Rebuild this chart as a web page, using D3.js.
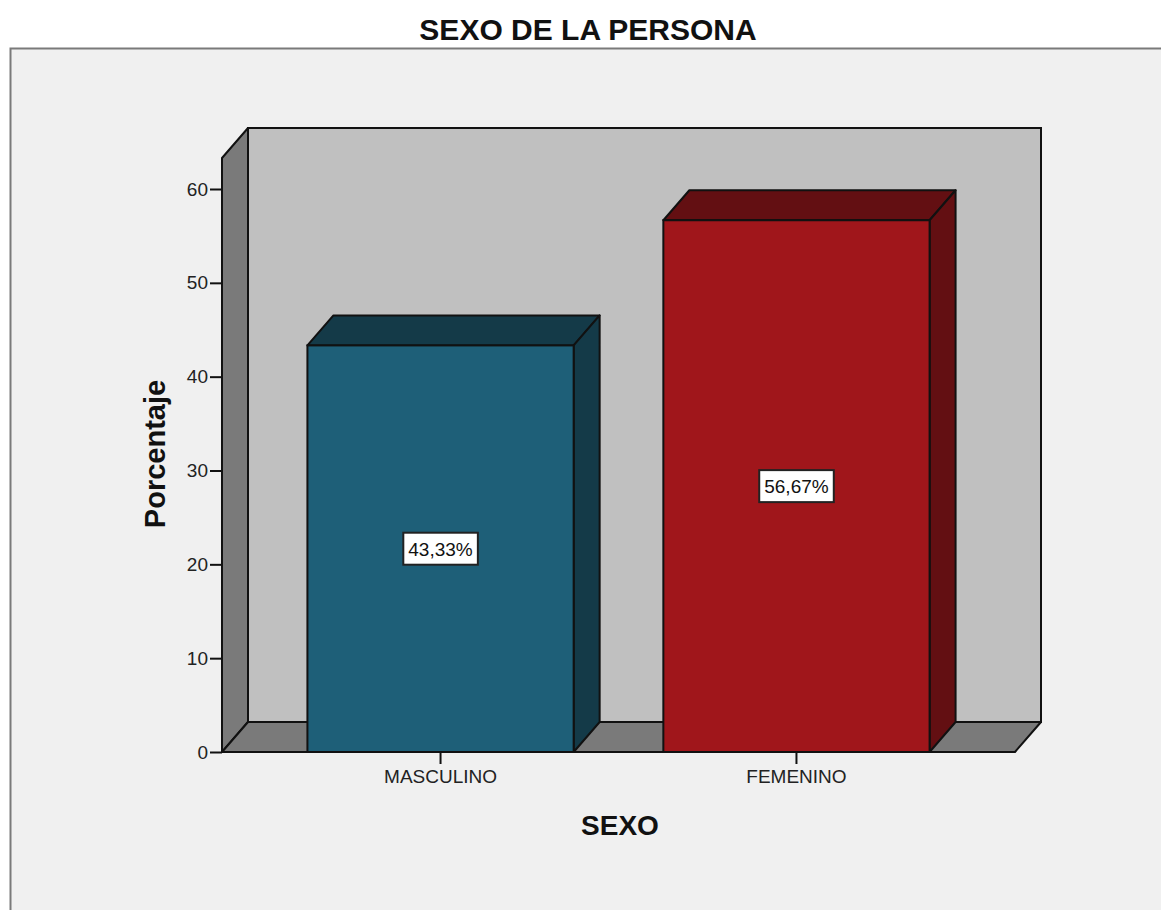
<!DOCTYPE html>
<html>
<head>
<meta charset="utf-8">
<script src="https://cdn.jsdelivr.net/npm/d3@7"></script>
<style>
  body { margin: 0; background: #fff; }
  text { font-family: "Liberation Sans", Arial, sans-serif; }
</style>
</head>
<body>
<div id="chart"></div>
<script>
// chart data
const categories = ["MASCULINO", "FEMENINO"];
const percentages = [43.33, 56.67];
const pctLabels = ["43,33%", "56,67%"];
const yTicks = [0, 10, 20, 30, 40, 50, 60];
const frontColors = ["#1e5f78", "#a0161b"];
const darkColors = ["#143a48", "#630f12"];

const svgWidth = 1161, svgHeight = 910;
const plot = { left: 222, right: 1015, top: 158, bottom: 752 };
const depthX = 26, depthY = -30;

const svg = d3.select("#chart").append("svg")
    .attr("width", svgWidth)
    .attr("height", svgHeight);

// outer frame
svg.append("rect")
    .attr("x", 10.5).attr("y", 48.5)
    .attr("width", 1200).attr("height", 900)
    .attr("fill", "#f0f0f0")
    .attr("stroke", "#7a7a7a")
    .attr("stroke-width", 2);

svg.append("text")
    .attr("x", 588).attr("y", 40)
    .attr("text-anchor", "middle")
    .attr("font-size", 30).attr("font-weight", "bold")
    .attr("fill", "#111")
    .text("SEXO DE LA PERSONA");

const y = d3.scaleLinear().domain([0, 60]).range([plot.bottom, 189]);
const x = d3.scaleBand().domain(categories)
    .range([plot.left, plot.right])
    .paddingInner(0.252).paddingOuter(0.24);

const poly = pts => pts.map(p => p.join(",")).join(" ");
const wallTop = plot.top;

// back wall
svg.append("polygon")
    .attr("points", poly([
        [plot.left + depthX, wallTop + depthY],
        [plot.right + depthX, wallTop + depthY],
        [plot.right + depthX, plot.bottom + depthY],
        [plot.left + depthX, plot.bottom + depthY]
    ]))
    .attr("fill", "#c0c0c0").attr("stroke", "#111").attr("stroke-width", 2);

// left side wall
svg.append("polygon")
    .attr("points", poly([
        [plot.left, wallTop],
        [plot.left + depthX, wallTop + depthY],
        [plot.left + depthX, plot.bottom + depthY],
        [plot.left, plot.bottom]
    ]))
    .attr("fill", "#7a7a7a").attr("stroke", "#111").attr("stroke-width", 2)
    .attr("stroke-linejoin", "round");

// floor
svg.append("polygon")
    .attr("points", poly([
        [plot.left, plot.bottom],
        [plot.left + depthX, plot.bottom + depthY],
        [plot.right + depthX, plot.bottom + depthY],
        [plot.right, plot.bottom]
    ]))
    .attr("fill", "#7a7a7a").attr("stroke", "#111").attr("stroke-width", 2)
    .attr("stroke-linejoin", "round");

// bars
const bars = svg.append("g").selectAll("g")
    .data(categories.map((c, i) => ({ c, v: percentages[i], i })))
    .join("g");

bars.each(function(d) {
    const g = d3.select(this);
    const x0 = x(d.c), x1 = x(d.c) + x.bandwidth();
    const yt = y(d.v), yb = y(0);
    // top face
    g.append("polygon")
        .attr("points", poly([[x0, yt], [x0 + depthX, yt + depthY], [x1 + depthX, yt + depthY], [x1, yt]]))
        .attr("fill", darkColors[d.i]).attr("stroke", "#111").attr("stroke-width", 2)
        .attr("stroke-linejoin", "round");
    // side face
    g.append("polygon")
        .attr("points", poly([[x1, yt], [x1 + depthX, yt + depthY], [x1 + depthX, yb + depthY], [x1, yb]]))
        .attr("fill", darkColors[d.i]).attr("stroke", "#111").attr("stroke-width", 2)
        .attr("stroke-linejoin", "round");
    // front face
    g.append("rect")
        .attr("x", x0).attr("y", yt)
        .attr("width", x1 - x0).attr("height", yb - yt)
        .attr("fill", frontColors[d.i]).attr("stroke", "#111").attr("stroke-width", 2);
});

// value labels
bars.each(function(d) {
    const g = d3.select(this);
    const cx = x(d.c) + x.bandwidth() / 2;
    const cy = y(d.v / 2);
    const t = g.append("text")
        .attr("x", cx).attr("y", cy + 7)
        .attr("text-anchor", "middle")
        .attr("font-size", 19)
        .attr("fill", "#111")
        .text(pctLabels[d.i]);
    const bb = t.node().getBBox();
    g.insert("rect", "text")
        .attr("x", bb.x - 5).attr("y", cy - 16)
        .attr("width", bb.width + 10).attr("height", 32)
        .attr("fill", "#fff").attr("stroke", "#222").attr("stroke-width", 2);
});

// y axis
const yAxis = svg.append("g")
    .attr("transform", `translate(${plot.left},0)`)
    .call(d3.axisLeft(y).tickValues(yTicks).tickSize(12).tickPadding(2));
yAxis.select(".domain").remove();
yAxis.selectAll(".tick line").attr("stroke", "#111").attr("stroke-width", 2);
yAxis.selectAll(".tick text")
    .attr("font-size", 19).attr("fill", "#222")
    .attr("font-family", "Liberation Sans, Arial, sans-serif");

// x axis
const xAxis = svg.append("g")
    .attr("transform", `translate(0,${plot.bottom})`)
    .call(d3.axisBottom(x).tickSize(12).tickPadding(6));
xAxis.select(".domain").remove();
xAxis.selectAll(".tick line").attr("stroke", "#111").attr("stroke-width", 2);
xAxis.selectAll(".tick text")
    .attr("font-size", 19).attr("fill", "#222")
    .attr("font-family", "Liberation Sans, Arial, sans-serif");

svg.append("text")
    .attr("x", 620).attr("y", 835)
    .attr("text-anchor", "middle")
    .attr("font-size", 28).attr("font-weight", "bold")
    .attr("fill", "#111")
    .text("SEXO");

svg.append("text")
    .attr("transform", "translate(165,454) rotate(-90)")
    .attr("text-anchor", "middle")
    .attr("font-size", 29).attr("font-weight", "bold")
    .attr("fill", "#111")
    .text("Porcentaje");
</script>
</body>
</html>
